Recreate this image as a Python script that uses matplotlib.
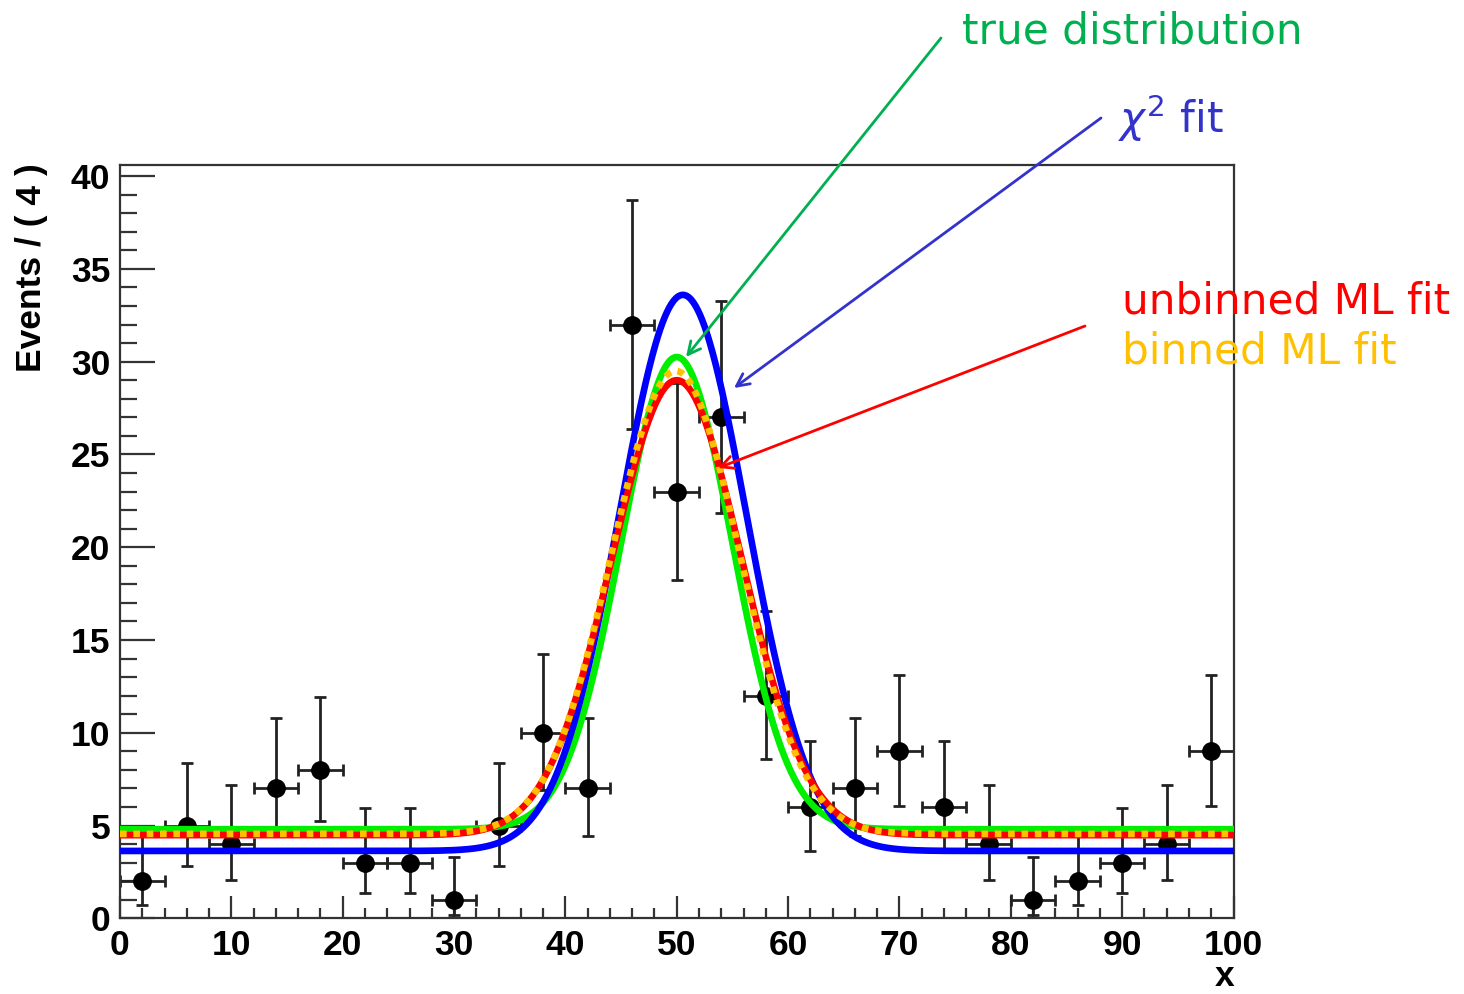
import numpy as np
import matplotlib.pyplot as plt
from matplotlib.ticker import MultipleLocator

# binned data, bin width 4
bin_centers = [2, 6, 10, 14, 18, 22, 26, 30, 34, 38, 42, 46, 50,
               54, 58, 62, 66, 70, 74, 78, 82, 86, 90, 94, 98]
counts = [2, 5, 4, 7, 8, 3, 3, 1, 5, 10, 7, 32, 23,
          27, 12, 6, 7, 9, 6, 4, 1, 2, 3, 4, 9]
# asymmetric (Poisson) error bars
err_low = [1.29, 2.16, 1.91, 2.58, 2.77, 1.63, 1.63, 0.83, 2.16, 3.11, 2.58, 5.64, 4.77,
           5.18, 3.41, 2.38, 2.58, 2.94, 2.38, 1.91, 0.83, 1.29, 1.63, 1.91, 2.94]
err_high = [2.64, 3.38, 3.16, 3.77, 3.95, 2.92, 2.92, 2.30, 3.38, 4.27, 3.77, 6.72, 5.86,
            6.26, 4.58, 3.58, 3.77, 4.11, 3.58, 3.16, 2.30, 2.64, 2.92, 3.16, 4.11]
bin_half = 2.0

# gaussian + flat background curves: (peak height, background, mean, sigma)
true_par = (30.25, 4.80, 50.0, 5.0)
chi2_par = (33.6, 3.63, 50.55, 5.7)
unbinned_par = (29.0, 4.48, 50.0, 5.85)
binned_par = (29.5, 4.55, 49.9, 5.75)


def model(x, par):
    peak, bg, mu, sig = par
    return bg + (peak - bg) * np.exp(-0.5 * ((x - mu) / sig) ** 2)


fig = plt.figure(figsize=(14.64, 9.94), dpi=100)
ax = fig.add_axes([120 / 1464, 1 - 918.3 / 994, 1113.5 / 1464, 753.3 / 994])

ax.errorbar(bin_centers, counts, yerr=[err_low, err_high], xerr=bin_half,
            fmt='o', color='black', ecolor='#222222', ms=12.5, elinewidth=2,
            capsize=4, capthick=2, zorder=2)

xs = np.linspace(0, 100, 1001)
ax.plot(xs, model(xs, true_par), color='#00ee00', lw=4.8, zorder=3)
ax.plot(xs, model(xs, chi2_par), color='#0000ff', lw=4.8, zorder=4)
ax.plot(xs, model(xs, unbinned_par), color='#ff0000', lw=4.8, zorder=5)
ax.plot(xs, model(xs, binned_par), color='#ffc000', lw=4.8, dashes=(1, 1), zorder=6)

ax.set_xlim(0, 100)
ax.set_ylim(0, 40.6)
ax.xaxis.set_major_locator(MultipleLocator(10))
ax.xaxis.set_minor_locator(MultipleLocator(2))
ax.yaxis.set_major_locator(MultipleLocator(5))
ax.yaxis.set_minor_locator(MultipleLocator(1))
ax.tick_params(axis='x', which='major', direction='in', length=16, width=1.6,
               color='#333333', pad=8)
ax.tick_params(axis='x', which='minor', direction='in', length=7, width=1.6, color='#333333')
ax.tick_params(axis='y', which='major', direction='in', length=25, width=1.6,
               color='#333333', pad=7)
ax.tick_params(axis='y', which='minor', direction='in', length=12, width=1.6, color='#333333')
for lab in ax.get_xticklabels() + ax.get_yticklabels():
    lab.set_fontfamily('Liberation Sans')
    lab.set_fontweight('bold')
    lab.set_fontsize(25.5)
for sp in ax.spines.values():
    sp.set_color('#333333')
    sp.set_linewidth(1.6)

fig.text(32 / 1464, 1 - 163 / 994, 'Events / ( 4 )', rotation=90, ha='center', va='top',
         family='Liberation Sans', fontweight='bold', fontsize=25.5)
fig.text(1234 / 1464, 1 - 976 / 994, 'x', ha='right', va='center',
         family='Liberation Sans', fontweight='bold', fontsize=25.5)


def fpt(px, py):
    return (px / 1464, 1 - py / 994)


arrow_kw = dict(arrowstyle='->,head_length=0.9,head_width=0.45', lw=2, shrinkA=0, shrinkB=0)
labels = [
    ('true distribution', '#00b050', (962, 44), (941, 38), (686, 357)),
    (r'$\chi^2$ fit', '#3333cc', (1118, 133), (1101, 118), (734, 388)),
    ('unbinned ML fit', '#ff0000', (1122, 313), (1085, 326), (718, 468)),
]
for text, col, tpos, start, tip in labels:
    fig.text(*fpt(*tpos), text, color=col, fontsize=30.3, family='DejaVu Sans',
             ha='left', va='baseline')
    ax.annotate('', xy=fpt(*tip), xycoords='figure fraction',
                xytext=fpt(*start), textcoords='figure fraction',
                arrowprops=dict(color=col, **arrow_kw), annotation_clip=False, zorder=10)
fig.text(*fpt(1122, 364), 'binned ML fit', color='#ffc000', fontsize=30.3,
         family='DejaVu Sans', ha='left', va='baseline')

fig.savefig('out.png', dpi=100, facecolor='white')
